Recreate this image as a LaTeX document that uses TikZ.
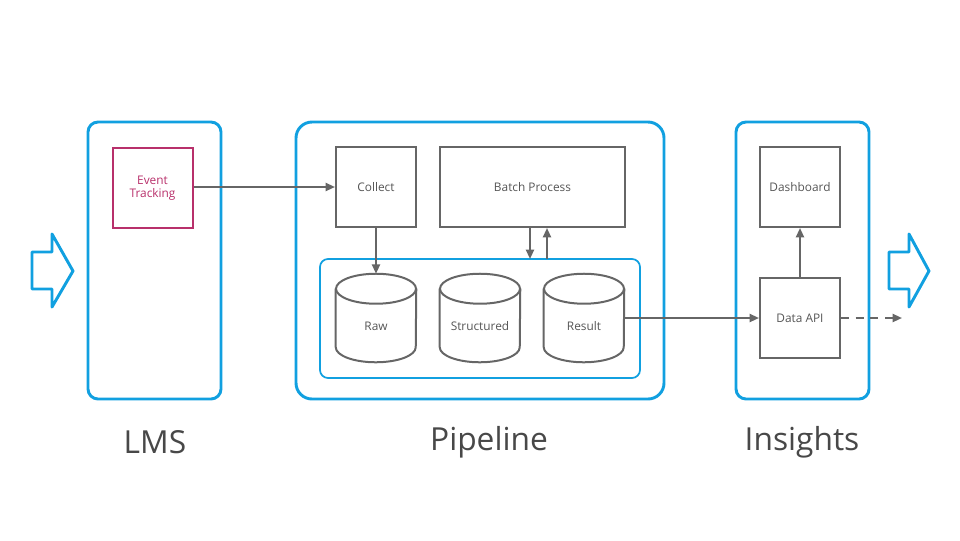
\documentclass[tikz,border=0pt]{standalone}
\usepackage{fontspec}
\setmainfont{Open Sans}
\usetikzlibrary{arrows.meta}
\definecolor{cblue}{HTML}{11A0E0}
\definecolor{cgray}{HTML}{666666}
\definecolor{ctext}{HTML}{555555}
\definecolor{cmag}{HTML}{B8306B}
\begin{document}
\begin{tikzpicture}[x=0.75pt,y=-0.75pt,
  group/.style={draw=cblue,line width=2.2pt,rounded corners=7.5pt},
  store/.style={draw=cblue,line width=1.3pt,rounded corners=6pt},
  box/.style={draw=cgray,line width=1.5pt,minimum width=60pt,minimum height=60pt,inner sep=0pt,
    text=ctext,font=\fontsize{8.9}{10}\selectfont,align=center},
  widebox/.style={box,minimum width=138.75pt},
  evbox/.style={box,draw=cmag,text=cmag},
  cylnode/.style={minimum width=60pt,minimum height=66pt,inner sep=0pt,text height=20pt,text depth=1.6pt,
    text=ctext,font=\fontsize{8.9}{10}\selectfont},
  conn/.style={draw=cgray,line width=1.5pt,-{Triangle[length=7pt,width=6pt]}},
  bigarrow/.style={draw=cblue,line width=2.2pt,line join=round},
  grouplabel/.style={text=ctext!85!black,font=\fontsize{23.8}{28}\selectfont}]
\useasboundingbox (0,0) rectangle (960,540);
% group frames
\draw[group] (88,122) rectangle (221,399);
\draw[group,rounded corners=12pt] (296,122) rectangle (664,399);
\draw[group] (736,122) rectangle (869,399);
\draw[store] (320,259) rectangle (640,378);
\coordinate (storetopA) at (530,259);
\coordinate (storetopB) at (547,259);
% big input/output arrows
\draw[bigarrow] (32,252) -- (52,252) -- (52,234) -- (73,271) -- (52,307) -- (52,289) -- (32,289) -- cycle;
\draw[bigarrow] (889,252) -- (909,252) -- (909,234) -- (929,271) -- (909,307) -- (909,289) -- (889,289) -- cycle;
% nodes
\node[evbox] (ev) at (152.5,188) {Event\\Tracking};
\node[box] (collect) at (376,187) {Collect};
\node[widebox] (batch) at (532.5,187) {Batch Process};
\node[box] (dash) at (800,187) {Dashboard};
\node[box] (api) at (800,318) {Data API};
\node[cylnode] (raw) at (376,318) {Raw};
\node[cylnode] (struct) at (480,318) {Structured};
\node[cylnode] (result) at (584,318) {Result};
\foreach \n in {raw,struct,result}{
  \draw[cgray,line width=1.5pt] ([yshift=-11.25pt]\n.north west) -- ([yshift=11.25pt]\n.south west)
     arc[start angle=180,end angle=360,x radius=30pt,y radius=11.25pt] -- ([yshift=-11.25pt]\n.north east);
  \draw[cgray,line width=1.5pt] ([yshift=-11.25pt]\n.north) ellipse[x radius=30pt,y radius=11.25pt];
}
% labels
\node[grouplabel] (lms) at (155,442) {LMS};
\node[grouplabel] (pipe) at (489,442) {Pipeline};
\node[grouplabel] (ins) at (802,442) {Insights};
% connectors
\draw[conn] (ev.east |- collect.west) -- (collect.west);
\draw[conn] (collect.south) -- (raw.north);
\draw[conn] (batch.south -| storetopA) -- (storetopA);
\draw[conn] (storetopB) -- (batch.south -| storetopB);
\draw[conn] (result.east) -- (api.west);
\draw[conn] (api.north) -- (dash.south);
\coordinate (out) at (902,318);
\draw[conn,dashed,dash pattern=on 6pt off 5pt] (api.east) -- (out);
\end{tikzpicture}
\end{document}
